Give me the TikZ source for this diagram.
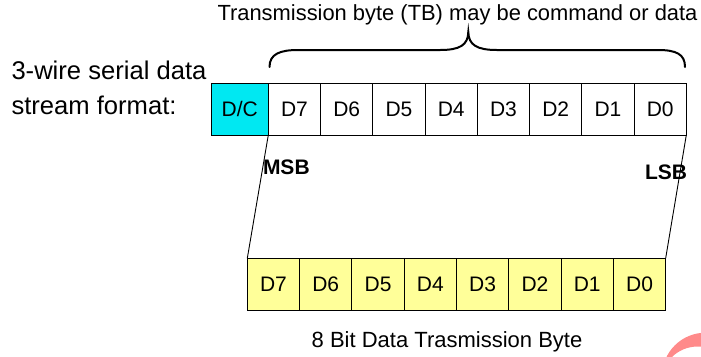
\documentclass[tikz,border=0pt]{standalone}
\usepackage{fontspec}
\setmainfont{Liberation Sans}
\definecolor{dccyan}{RGB}{0,232,242}
\definecolor{byteyellow}{RGB}{255,255,153}
\definecolor{markpink}{RGB}{255,138,138}
\tikzset{
  cell/.style={draw=black, line width=0.9bp, minimum width=52.25bp, minimum height=52bp,
    inner sep=0pt, outer sep=0pt, anchor=north west, font=\fontsize{21bp}{24bp}\selectfont},
  topcell/.style={cell, fill=white},
  botcell/.style={cell, fill=byteyellow},
  dccell/.style={cell, fill=dccyan, minimum width=57bp},
  label/.style={inner sep=0pt, outer sep=0pt},
  bitmark/.style={label, font=\fontsize{21bp}{24bp}\selectfont\bfseries},
  link/.style={draw=black, line width=0.9bp},
  bracepath/.style={draw=black, line width=2bp, line cap=round}
}
\begin{document}
\begin{tikzpicture}[x=1bp, y=-1bp]
  \useasboundingbox (0,0) rectangle (701,356);

  % caption above the brace
  \node[label, font=\fontsize{21.9bp}{24bp}\selectfont] (title) at (457.5,15) {Transmission byte (TB) may be command or data};

  % left-hand description
  \node[label, anchor=west, align=left, font=\fontsize{25.6bp}{35bp}\selectfont] (desc) at (11.5,87.5)
    {3-wire serial data\\stream format:};

  % serial stream: D/C bit followed by the transmission byte
  \node[dccell] (dc) at (211.3,83) {D/C};
  \foreach \b [count=\i from 0] in {7,6,5,4,3,2,1,0} {
    \node[topcell] (t\b) at ({268.3+52.25*\i},83) {D\b};
  }

  % brace spanning the transmission byte
  \draw[bracepath] (269.5,67) .. controls (269.5,54) and (280,50) .. (298,50)
    -- (440,50) .. controls (460,50) and (468,45) .. (468.3,32)
    .. controls (468.6,45) and (477,50) .. (497,50)
    -- (658,50) .. controls (676,50) and (685,54) .. (685,67);

  % expanded 8 bit byte
  \foreach \b [count=\i from 0] in {7,6,5,4,3,2,1,0} {
    \node[botcell] (b\b) at ({247.3+52.3*\i},258.3) {D\b};
  }

  % slanted guide lines joining the two rows
  \draw[link] (t7.south west) -- (b7.north west);
  \draw[link] (t0.south east) -- (b0.north east);

  \node[bitmark, anchor=west] (msb) at (263,167) {MSB};
  \node[bitmark, anchor=east] (lsb) at (687,172) {LSB};

  \node[label, font=\fontsize{22bp}{24bp}\selectfont] (caption) at (447,341.5) {8 Bit Data Trasmission Byte};

  % pink crescent in the corner
  \fill[markpink, even odd rule] (705.5,376.2) circle (43.5) (697.6,383.1) circle (36.6);
\end{tikzpicture}
\end{document}
